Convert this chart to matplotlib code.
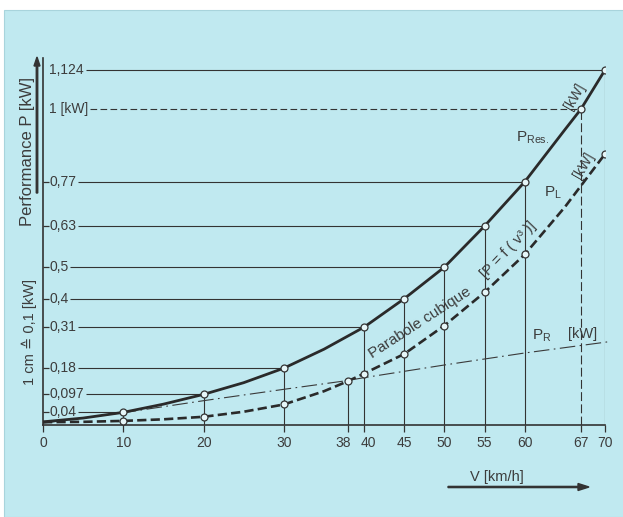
import matplotlib
matplotlib.use('Agg')
import matplotlib.pyplot as plt
from matplotlib.patches import Rectangle, FancyArrow
from matplotlib.transforms import ScaledTranslation

plt.rcParams['font.family'] = ['Liberation Sans', 'DejaVu Sans']
plt.rcParams['mathtext.fontset'] = 'custom'
plt.rcParams['mathtext.rm'] = 'Liberation Sans'

# speed V [km/h] and power P [kW]
v_res = [0, 5, 10, 15, 20, 25, 30, 35, 40, 45, 50, 55, 60, 65, 67, 70]
p_res = [0.01, 0.022, 0.04, 0.066, 0.097, 0.134, 0.18, 0.24, 0.31, 0.4, 0.5, 0.63, 0.77, 0.935, 1.0, 1.124]

v_l = [0, 5, 10, 15, 20, 25, 30, 35, 38, 40, 45, 50, 55, 60, 65, 70]
p_l = [0.009, 0.010, 0.013, 0.018, 0.026, 0.042, 0.065, 0.107, 0.139, 0.163, 0.225, 0.315, 0.42, 0.54, 0.69, 0.858]

v_r = [0, 10, 20, 30, 38, 40, 50, 60, 70, 70.8]
p_r = [0.006, 0.039, 0.077, 0.113, 0.141, 0.15, 0.19, 0.228, 0.262, 0.265]

marked_res = [10, 20, 30, 40, 45, 50, 55, 60, 67, 70]
marked_l = [10, 20, 30, 38, 40, 45, 50, 55, 60, 70]

xticks = [0, 10, 20, 30, 38, 40, 45, 50, 55, 60, 67, 70]
yvals = [0.04, 0.097, 0.18, 0.31, 0.4, 0.5, 0.63, 0.77, 1.0, 1.124]
ylabels = ['0,04', '0,097', '0,18', '0,31', '0,4', '0,5', '0,63', '0,77', '1 [kW]', '1,124']
yline_end = [10, 20, 30, 40, 45, 50, 55, 60, 67, 70]

drop_res = [10, 20, 30, 40, 45, 50, 55, 60, 70]
drop_l = [38]
drop_dashed = [67]

ink = '#333333'
txt = '#3c3c3c'
bg = '#c0e9f0'

W, H = 623, 517
fig = plt.figure(figsize=(W / 100, H / 100), dpi=100, facecolor='white')
fig.patches.append(Rectangle((4 / W, 0), 1, (H - 10) / H, transform=fig.transFigure,
                             facecolor=bg, edgecolor='#a8d4dc', lw=0.8, zorder=-10))

ax = fig.add_axes([43 / W, 92 / H, 562 / W, (425 - 58) / H])
ax.set_facecolor('none')
ax.set_xlim(0, 70)
ax.set_ylim(0, 1.162)
for s in ['top', 'right']:
    ax.spines[s].set_visible(False)
for s in ['left', 'bottom']:
    ax.spines[s].set_color(ink)
    ax.spines[s].set_linewidth(1.2)

ax.set_xticks(xticks)
ax.set_xticklabels([str(t) for t in xticks])
ax.tick_params(axis='x', direction='out', length=5, width=0.9, color=ink,
               labelsize=10, labelcolor=txt, pad=3)
# 38 and 40 sit close together, nudge their labels apart
for lab in ax.get_xticklabels():
    if lab.get_text() == '38':
        lab.set_transform(lab.get_transform() + ScaledTranslation(-5 / 100, 0, fig.dpi_scale_trans))
    if lab.get_text() == '40':
        lab.set_transform(lab.get_transform() + ScaledTranslation(4 / 100, 0, fig.dpi_scale_trans))
ax.set_yticks([y for y, l in zip(yvals, ylabels) if ',' in l and l != '1,124'])
ax.set_yticklabels([])
ax.tick_params(axis='y', direction='in', length=4, width=0.9, color=ink)

# curves
ax.plot(v_res, p_res, color='#2a2a2a', lw=2.0, zorder=4,
        marker='o', markevery=[v in marked_res for v in v_res],
        ms=5, mfc='#e6f6f8', mec=ink, mew=0.9)
ax.plot(v_l, p_l, color='#2a2a2a', lw=1.9, dashes=(3.5, 1.6), zorder=4,
        marker='o', markevery=[v in marked_l for v in v_l],
        ms=5, mfc='#e6f6f8', mec=ink, mew=0.9)
ax.plot(v_r, p_r, color='#3a3a3a', lw=0.8, dashes=(14, 4, 1.5, 4), zorder=3, clip_on=False)

# drop lines
res_at = dict(zip(v_res, p_res))
l_at = dict(zip(v_l, p_l))
ax.vlines(drop_res, 0, [res_at[v] for v in drop_res], color=ink, lw=0.8, zorder=2)
ax.vlines(drop_l, 0, [l_at[v] for v in drop_l], color=ink, lw=0.8, zorder=2)
ax.vlines(drop_dashed, 0, [res_at[v] for v in drop_dashed], color=ink, lw=0.8,
          linestyles=(0, (8, 3)), zorder=2)

# y labels inside the axis, reference lines start after them
labels = []
for y, l in zip(yvals, ylabels):
    labels.append(ax.text(0.75, y, l, fontsize=10, color=txt, ha='left', va='center'))
fig.canvas.draw()
r = fig.canvas.get_renderer()
inv = ax.transData.inverted()
for t, y, xe, l in zip(labels, yvals, yline_end, ylabels):
    x0 = inv.transform((t.get_window_extent(r).x1 + 2, 0))[0]
    ls = (0, (6, 3)) if l == '1 [kW]' else 'solid'
    ax.hlines(y, x0, xe, color=ink, lw=0.8, linestyles=ls, zorder=2)

# annotations
ax.text(66.2, 1.039, '[kW]', fontsize=10, color=txt, rotation=60, ha='center', va='center')
ax.text(61.0, 0.909, r'P$_{\mathrm{Res.}}$', fontsize=11, color=txt, ha='center', va='center')
ax.text(67.4, 0.823, '[kW]', fontsize=10, color=txt, rotation=60, ha='center', va='center')
ax.text(63.5, 0.735, r'P$_{\mathrm{L}}$', fontsize=11, color=txt, ha='center', va='center')
ax.text(62.1, 0.282, r'P$_{\mathrm{R}}$', fontsize=11, color=txt, ha='center', va='center')
ax.text(67.2, 0.288, '[kW]', fontsize=10.5, color=txt, ha='center', va='center')
ax.text(46.9, 0.325, 'Parabole cubique', fontsize=11, color=txt, rotation=33,
        ha='center', va='center', rotation_mode='anchor')
ax.text(58.0, 0.555, '[P = f ( v³ )]', fontsize=10.5, color=txt, rotation=46,
        ha='center', va='center', rotation_mode='anchor')

# axis titles with arrows
fig.text(28 / W, 1 - 151 / H, 'Performance P [kW]', fontsize=12, color=txt,
         rotation=90, ha='center', va='center')
fig.text(29 / W, 1 - 332 / H, '1 cm ≙ 0,1 [kW]', fontsize=10.5, color=txt,
         rotation=90, ha='center', va='center')
fig.patches.append(FancyArrow(
    37 / W, 1 - 193 / H, 0, (193 - 66) / H, width=1.2 / H, head_width=6 / W,
    head_length=9 / H, length_includes_head=False, transform=fig.transFigure,
    color=ink))
fig.text(497 / W, 1 - 477 / H, 'V [km/h]', fontsize=10.5, color=txt, ha='center', va='center')
fig.patches.append(FancyArrow(
    448 / W, 1 - 487 / H, (578 - 448) / W, 0, width=1.2 / H, head_width=7 / H,
    head_length=11 / W, length_includes_head=False, transform=fig.transFigure,
    color=ink))

fig.savefig('out.png', dpi=100, facecolor='white')
